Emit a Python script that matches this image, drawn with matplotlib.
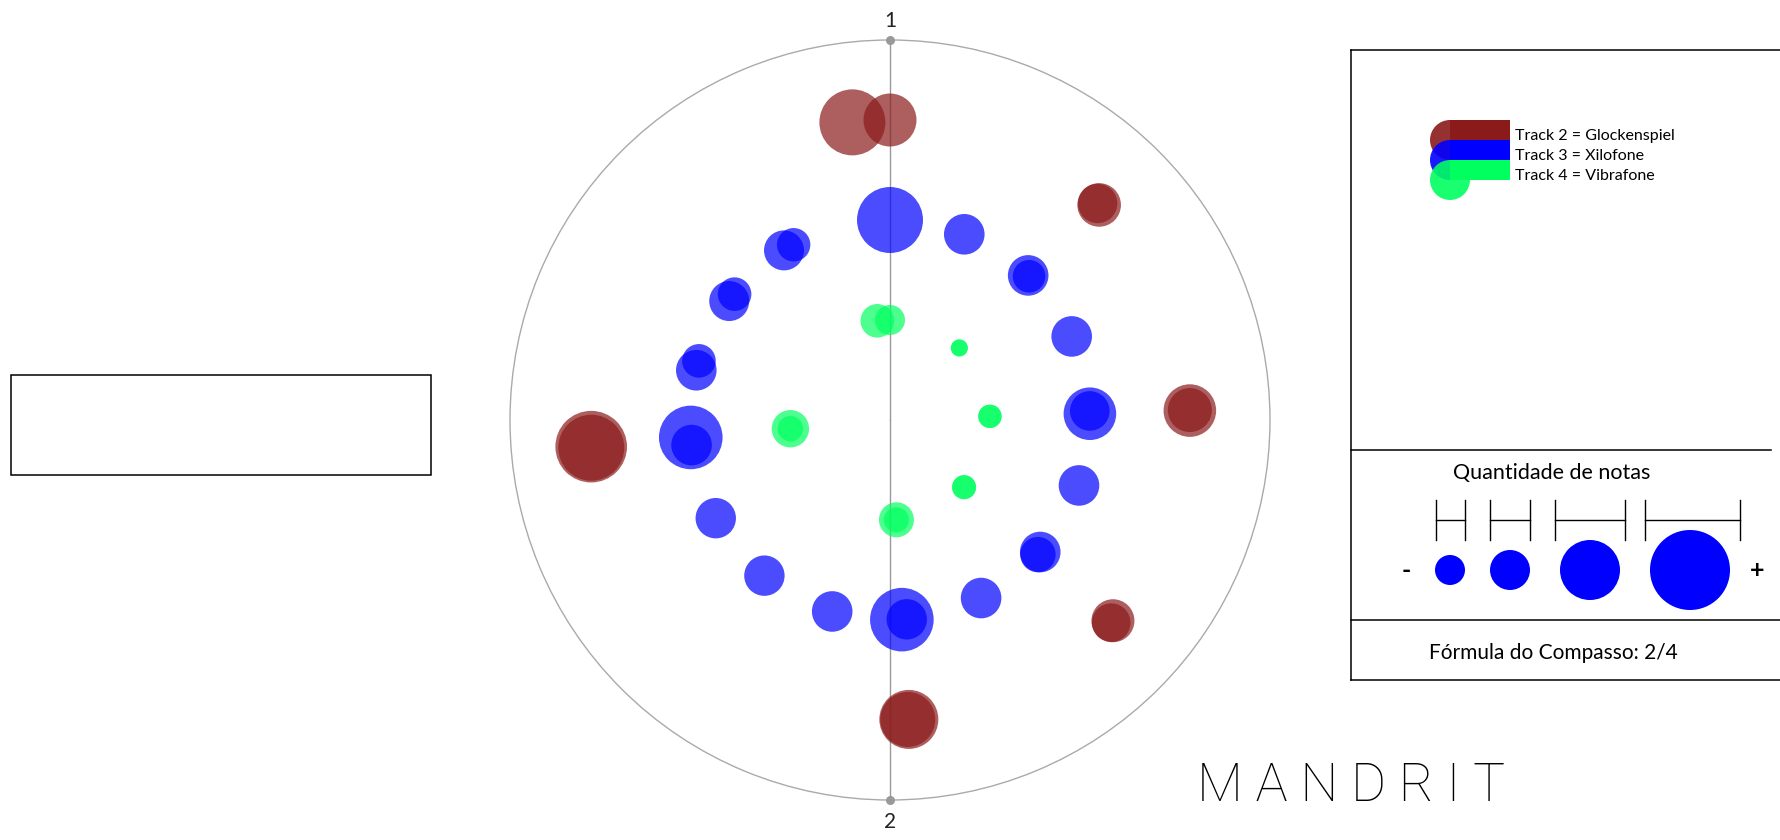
import matplotlib.pyplot as plt
import numpy as np
from matplotlib.patches import Circle, Rectangle

# Track 2 - Glockenspiel (outer ring)
glock_theta = [352.8, 0.0, 44.2, 43.8, 88.2, 88.1, 132.0, 132.5, 176.4, 176.6, 264.9, 264.7]
glock_size = [33.0, 26.5, 21.8, 19.7, 26.3, 22.0, 21.5, 19.3, 29.5, 27.5, 35.8, 33.0]

# Track 3 - Xilofone (middle ring)
xilo_theta = [0.0, 21.8, 43.7, 44.05, 65.3, 88.2, 87.4, 109.1, 131.3, 132.3, 152.9,
              176.6, 175.2, 196.8, 218.9, 240.6, 265.0, 262.8, 284.4, 287.2,
              306.5, 309.0, 328.0, 331.2]
xilo_size = [33.0, 20.3, 20.3, 16.3, 20.3, 26.3, 19.8, 20.3, 20.3, 17.7, 20.3,
             31.8, 20.2, 20.3, 20.2, 20.2, 31.8, 20.3, 20.3, 16.8,
             20.0, 16.8, 20.0, 16.7]

# Track 4 - Vibrafone (inner ring)
vibra_theta = [352.7, 0.0, 43.9, 43.9, 87.9, 87.9, 132.2, 132.2, 176.3, 176.3, 265.0, 265.0]
vibra_size = [16.8, 15.0, 8.5, 8.5, 11.7, 11.7, 12.0, 12.0, 17.5, 12.5, 18.7, 12.7]

track_names = ["Track 2 = Glockenspiel", "Track 3 = Xilofone", "Track 4 = Vibrafone"]
track_colors = ["#8B1A1A", "#0000FF", "#00FF5F"]
track_ring = [3, 2, 1]

beat_labels = ["1", "2"]
beat_theta = [0, 180]
legend_sizes = [15, 20, 30, 40]
compasso = "2/4"

W, H = 1780, 840
cx, cy, R = 890, 420, 380
rmax = 3.8
FONT = "Lato"


def px_to_s(r):
    # marker radius in pixels -> scatter area in pt^2 (dpi 100)
    return (2 * np.asarray(r) * 0.72) ** 2


fig = plt.figure(figsize=(17.8, 8.4), dpi=100)
fig.patch.set_facecolor("white")

ax = fig.add_axes([(cx - R) / W, (H - cy - R) / H, 2 * R / W, 2 * R / H],
                  projection="polar")
ax.set_theta_zero_location("N")
ax.set_theta_direction(-1)
ax.set_ylim(0, rmax)
ax.set_yticks([])
ax.set_thetagrids(beat_theta, ["", ""])
ax.xaxis.grid(True, color="#999999", lw=1.0)
ax.spines["polar"].set_color("#aaaaaa")
ax.spines["polar"].set_linewidth(1.0)

# beat labels just outside the circle
for th, lab, rr in zip(beat_theta, beat_labels, [rmax + 0.19, rmax + 0.22]):
    ax.text(np.radians(th), rr, lab, fontsize=15, family=FONT, color="#222222",
            ha="center", va="center", clip_on=False)

series = [(glock_theta, glock_size), (xilo_theta, xilo_size), (vibra_theta, vibra_size)]
for (th, sz), color, ring in zip(series, track_colors, track_ring):
    ax.scatter(np.radians(th), np.full(len(th), ring), s=px_to_s(sz),
               c=color, alpha=0.7, linewidths=0, zorder=3)

ax.scatter(np.radians(beat_theta), [rmax] * len(beat_theta), s=px_to_s(4.5),
           c="#999999", linewidths=0, clip_on=False, zorder=5)

# overlay in pixel coordinates for the side panels
ov = fig.add_axes([0, 0, 1, 1])
ov.set_xlim(0, W)
ov.set_ylim(H, 0)
ov.axis("off")
ov.patch.set_alpha(0)

lw = 1.1
ov.add_patch(Rectangle((10.7, 375), 420, 100, fill=False, ec="black", lw=lw))

px0 = 1350.7
ov.plot([px0, px0], [50, 680], color="black", lw=lw)
ov.plot([px0, W], [50, 50], color="black", lw=lw)
ov.plot([px0, 1771], [450, 450], color="black", lw=lw)
ov.plot([px0, W], [620.3, 620.3], color="black", lw=lw)
ov.plot([px0, W], [680, 680], color="black", lw=lw)

# colour legend
for i, (name, color) in enumerate(zip(track_names, track_colors)):
    y0 = 120 + 20 * i
    ov.add_patch(Rectangle((1450, y0), 60, 20, fc=color, ec="none", zorder=2 + 2 * i))
    ov.add_patch(Circle((1450, y0 + 20), 20, fc=color, ec="none", alpha=0.9,
                        zorder=3 + 2 * i))
    ov.text(1515, y0 + 20, name, fontsize=11.5, family=FONT, va="baseline",
            ha="left", color="black", zorder=10)

# size legend
ov.text(1552, 473, "Quantidade de notas", fontsize=15.5, family=FONT,
        ha="center", va="center")
bracket_x = [(1435.7, 1465.3), (1490.3, 1530.3), (1555.3, 1625.3), (1645.3, 1740.3)]
circle_x = [1450, 1510, 1590, 1690]
for (xa, xb), xc, r in zip(bracket_x, circle_x, legend_sizes):
    ov.plot([xa, xa], [500, 540], color="black", lw=1.0)
    ov.plot([xb, xb], [500, 540], color="black", lw=1.0)
    ov.plot([xa, xb], [520, 520], color="black", lw=1.0)
    ov.add_patch(Circle((xc, 570), r, fc="#0000FF", ec="none"))
ov.text(1406, 571, "-", fontsize=18, family=FONT, fontweight="bold",
        ha="center", va="center")
ov.text(1757, 571, "+", fontsize=18, family=FONT, fontweight="bold",
        ha="center", va="center")

ov.text(1553, 653, "Fórmula do Compasso: " + compasso, fontsize=15, family=FONT,
        ha="center", va="center")

ov.text(1351, 800.7, "M A N D R I T", fontsize=38.5, family=["Roboto", "DejaVu Sans"],
        fontweight="light", ha="center", va="baseline", color="black")

fig.savefig("out.png", dpi=100, facecolor="white")
plt.close(fig)
